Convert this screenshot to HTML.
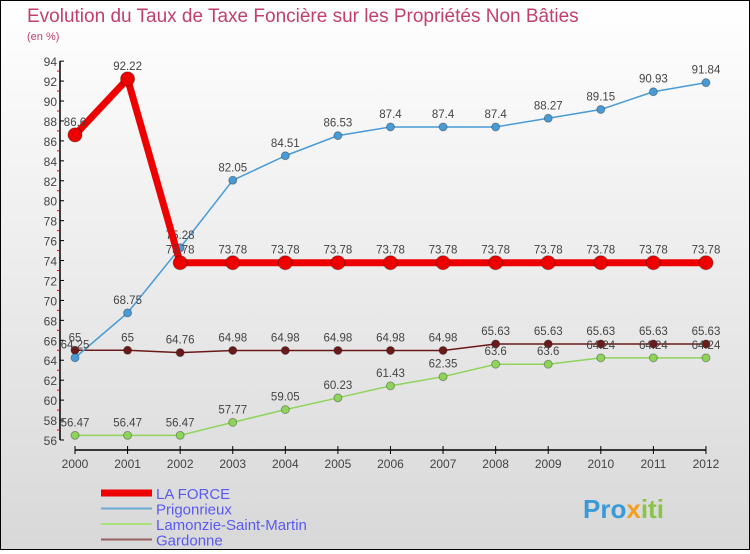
<!DOCTYPE html>
<html><head><meta charset="utf-8"><style>
body{margin:0}
#c{width:748px;height:548px;border:1px solid #000;background:linear-gradient(#fff,#d8d8d8);position:relative;font-family:"Liberation Sans",sans-serif}
</style></head><body>
<div id="c">
<svg id="s" width="748" height="548" xmlns="http://www.w3.org/2000/svg">
<text x="26" y="21" font-size="19" fill="#c0406a">Evolution du Taux de Taxe Foncière sur les Propriétés Non Bâties</text>
<text x="26" y="39" font-size="11" fill="#c0406a">(en %)</text>
<text x="582" y="517" font-size="26" font-weight="bold" fill="#3a9ad9">Pro<tspan fill="#f0a020">x</tspan><tspan fill="#8bc34a">iti</tspan></text>
</svg></div>
<script>
const years=[2000,2001,2002,2003,2004,2005,2006,2007,2008,2009,2010,2011,2012];
const yTicks=[56,58,60,62,64,66,68,70,72,74,76,78,80,82,84,86,88,90,92,94];
const laForce=[86.6,92.22,73.78,73.78,73.78,73.78,73.78,73.78,73.78,73.78,73.78,73.78,73.78];
const prigonrieux=[64.25,68.75,75.28,82.05,84.51,86.53,87.4,87.4,87.4,88.27,89.15,90.93,91.84];
const lamonzie=[56.47,56.47,56.47,57.77,59.05,60.23,61.43,62.35,63.6,63.6,64.24,64.24,64.24];
const gardonne=[65,65,64.76,64.98,64.98,64.98,64.98,64.98,65.63,65.63,65.63,65.63,65.63];
const seriesNames=["LA FORCE","Prigonrieux","Lamonzie-Saint-Martin","Gardonne"];
const NS="http://www.w3.org/2000/svg",s=document.getElementById('s');
const X=i=>74+i*52.58, Y=v=>439-(v-56)*9.97;
function el(t,a,p){const e=document.createElementNS(NS,t);for(const k in a)e.setAttribute(k,a[k]);(p||s).appendChild(e);return e;}
const ax=el('g',{});


el('line',{x1:59,y1:Y(94),x2:59,y2:Y(56),stroke:'#000','stroke-width':1.5},ax);
el('line',{x1:X(0),y1:449,x2:X(12),y2:449,stroke:'#000','stroke-width':1.5},ax);
const yMax=yTicks[yTicks.length-1];
yTicks.forEach(v=>{
 el('line',{x1:59,y1:Y(v),x2:63,y2:Y(v),stroke:'#000'},ax);
 if(v<yMax) el('line',{x1:56,y1:Y(v+1),x2:59,y2:Y(v+1),stroke:'#e00'},ax);
 const t=el('text',{x:56,y:Y(v)+5,'text-anchor':'end','font-size':12,fill:'#444'},ax);t.textContent=v;
 
 
});
years.forEach((y,i)=>{
 el('line',{x1:X(i),y1:445,x2:X(i),y2:453,stroke:'#000'},ax);
 const t=el('text',{x:X(i),y:467,'text-anchor':'middle','font-size':12,fill:'#444'},ax);t.textContent=y;
 
 
});
function series(d,col,w,r,name){
 const g=el('g',{});
 
 
 el('polyline',{points:d.map((v,i)=>X(i)+','+Y(v)).join(' '),fill:'none',stroke:col,'stroke-width':w,'stroke-linejoin':'round'},g);
 d.forEach((v,i)=>{
  const c=el('circle',{cx:X(i),cy:Y(v),r:r,fill:col,stroke:'rgba(0,0,0,0.3)'},g);
  
  
  const t=el('text',{x:X(i),y:Y(v)-9,'text-anchor':'middle','font-size':11.5,fill:'#444'},g);t.textContent=v;
  
  
 });
}
series(gardonne,'#6b1a1a',1.5,4,'series-gardonne');
series(lamonzie,'#8ed45a',1.5,4,'series-lamonzie');
series(prigonrieux,'#4a9ad6',1.5,4,'series-prigonrieux');
series(laForce,'#ee0000',7,7,'series-la-force');
const lc=['#ee0000','#6aaad6','#a8e07a','#946060'],lw=[7,2,2,2];
seriesNames.forEach((n,i)=>{
 const g=el('g',{});
 
 
 const y=492+i*15.5;
 el('line',{x1:100,y1:y,x2:151,y2:y,stroke:lc[i],'stroke-width':lw[i]},g);
 const t=el('text',{x:155,y:y+6,'font-size':15,fill:'#5a5af0'},g);t.textContent=n;
});
</script>
</body></html>
